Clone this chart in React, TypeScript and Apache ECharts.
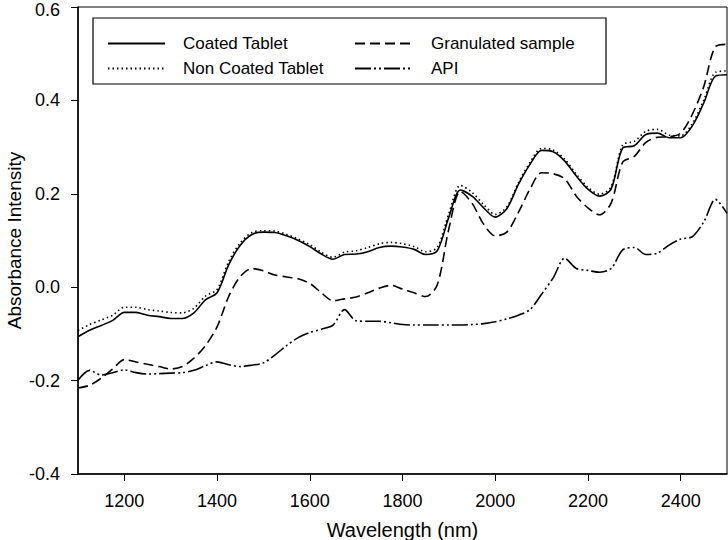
import React, { useEffect, useRef } from "react";
import * as echarts from "echarts";

const wavelengths = [
  1100, 1125, 1150, 1175, 1200, 1225, 1250, 1275, 1300, 1325, 1350, 1375, 1400, 1425, 1450, 1475,
  1500, 1525, 1550, 1575, 1600, 1625, 1650, 1675, 1700, 1725, 1750, 1775, 1800, 1825, 1850, 1875,
  1900, 1925, 1950, 1975, 2000, 2025, 2050, 2075, 2100, 2125, 2150, 2175, 2200, 2225, 2250, 2275,
  2300, 2325, 2350, 2375, 2400, 2425, 2450, 2475, 2500,
];

const coatedTablet = [
  -0.106, -0.092, -0.082, -0.071, -0.054, -0.054, -0.06, -0.063, -0.067, -0.067, -0.055, -0.027, -0.012, 0.048, 0.09, 0.113,
  0.118, 0.117, 0.11, 0.1, 0.087, 0.071, 0.06, 0.07, 0.071, 0.076, 0.085, 0.088, 0.086, 0.081, 0.07, 0.078,
  0.15, 0.208, 0.195, 0.17, 0.15, 0.168, 0.22, 0.263, 0.293, 0.29, 0.27, 0.238, 0.21, 0.195, 0.21, 0.298,
  0.303, 0.327, 0.33, 0.32, 0.32, 0.345, 0.395, 0.452, 0.455,
];

const nonCoatedTablet = [
  -0.093, -0.08, -0.07, -0.06, -0.043, -0.043, -0.048, -0.051, -0.054, -0.055, -0.045, -0.019, -0.005, 0.055, 0.095, 0.117,
  0.121, 0.12, 0.113, 0.103, 0.091, 0.075, 0.064, 0.075, 0.078, 0.085, 0.093, 0.096, 0.093, 0.087, 0.076, 0.085,
  0.158, 0.218, 0.203, 0.177, 0.156, 0.172, 0.224, 0.267, 0.297, 0.294, 0.274, 0.242, 0.214, 0.199, 0.215, 0.305,
  0.312, 0.334, 0.338, 0.326, 0.324, 0.35, 0.401, 0.46, 0.463,
];

const granulatedSample = [
  -0.216, -0.21, -0.195, -0.175, -0.155, -0.16, -0.165, -0.17, -0.175, -0.17, -0.152, -0.125, -0.085, -0.02, 0.023, 0.04,
  0.035, 0.026, 0.022, 0.018, 0.008, -0.012, -0.029, -0.025, -0.021, -0.012, -0.002, 0.004, -0.004, -0.012, -0.02, 0.005,
  0.125, 0.205, 0.18, 0.135, 0.11, 0.118, 0.16, 0.21, 0.245, 0.243, 0.232, 0.195, 0.17, 0.155, 0.18, 0.268,
  0.28, 0.31, 0.321, 0.322, 0.33, 0.37, 0.43, 0.515, 0.52,
];

const api = [
  -0.199, -0.178, -0.188, -0.183, -0.177, -0.183, -0.186, -0.185, -0.184, -0.183, -0.178, -0.168, -0.16, -0.166, -0.17, -0.167,
  -0.162, -0.145, -0.125, -0.108, -0.097, -0.09, -0.081, -0.048, -0.072, -0.073, -0.073, -0.076, -0.08, -0.081, -0.081, -0.081,
  -0.081, -0.081, -0.08, -0.078, -0.074, -0.068, -0.06, -0.048, -0.015, 0.02, 0.062, 0.04, 0.036, 0.032, 0.04, 0.08,
  0.085, 0.07, 0.073, 0.09, 0.103, 0.108, 0.14, 0.188, 0.158,
];

const xTicks = [1200, 1400, 1600, 1800, 2000, 2200, 2400];

const FONT = "Liberation Sans, Arial, sans-serif";

function pairs(vals: number[]) {
  return wavelengths.map((w, i) => [w, vals[i]]);
}

export default function App() {
  const ref = useRef<HTMLDivElement>(null);
  useEffect(() => {
    if (!ref.current) return;
    const chart = echarts.init(ref.current, undefined, { renderer: "svg" });
    const lineBase = { color: "#000", width: 1.6 };
    const legendCommon = {
      orient: "vertical",
      top: 35,
      itemWidth: 57,
      itemHeight: 14,
      itemGap: 8,
      padding: 0,
      itemStyle: { opacity: 0 },
    };
    chart.setOption({
      animation: false,
      backgroundColor: "#fff",
      grid: {
        left: 78,
        right: 1,
        top: 7,
        bottom: 66,
        show: true,
        borderColor: "#000",
        borderWidth: 1,
        containLabel: false,
        outerBoundsMode: "none",
      },
      xAxis: {
        type: "value",
        min: 1100,
        max: 2500,
        name: "Wavelength (nm)",
        nameLocation: "middle",
        nameGap: 46,
        nameMoveOverlap: false,
        nameTextStyle: { color: "#000", fontSize: 20, fontFamily: FONT },
        axisLine: { show: true, onZero: false, lineStyle: { color: "#000", width: 1.5 } },
        axisTick: { show: true, length: 7, customValues: xTicks, lineStyle: { color: "#000" } },
        axisLabel: {
          customValues: xTicks,
          color: "#000",
          fontSize: 18,
          fontFamily: FONT,
          margin: 18,
          formatter: (v: number) => String(v),
        },
        splitLine: { show: false },
      },
      yAxis: {
        type: "value",
        min: -0.4,
        max: 0.6,
        interval: 0.2,
        name: "Absorbance Intensity",
        nameLocation: "middle",
        nameGap: 54,
        nameMoveOverlap: false,
        nameTextStyle: { color: "#000", fontSize: 19, fontFamily: FONT },
        axisLine: { show: true, onZero: false, lineStyle: { color: "#000", width: 1.5 } },
        axisTick: { show: true, length: 7, lineStyle: { color: "#000" } },
        axisLabel: {
          color: "#000",
          fontSize: 18,
          fontFamily: FONT,
          margin: 18,
          formatter: (v: number) => (v > 0.55 ? "{t|" + v.toFixed(1) + "}" : v.toFixed(1)),
          rich: {
            t: { fontSize: 18, fontFamily: FONT, color: "#000", padding: [5, 0, 0, 0] },
          },
        },
        splitLine: { show: false },
      },
      legend: [
        {
          ...legendCommon,
          data: ["Coated Tablet", "Non Coated Tablet"],
          left: 107,
          textStyle: { color: "#000", fontSize: 17, fontFamily: FONT, padding: [0, 0, 0, 13] },
        },
        {
          ...legendCommon,
          data: ["Granulated sample", "API"],
          left: 354,
          textStyle: { color: "#000", fontSize: 17, fontFamily: FONT, padding: [0, 0, 0, 14] },
        },
      ],
      graphic: [
        {
          type: "rect",
          shape: { x: 93, y: 18, width: 513, height: 66 },
          style: { fill: "none", stroke: "#000", lineWidth: 1.2 },
          z: 10,
        },
      ],
      series: [
        {
          name: "Coated Tablet",
          type: "line",
          symbol: "none",
          smooth: 0.3,
          data: pairs(coatedTablet),
          lineStyle: { ...lineBase, type: "solid" },
          itemStyle: { color: "#000" },
        },
        {
          name: "Non Coated Tablet",
          type: "line",
          symbol: "none",
          smooth: 0.3,
          data: pairs(nonCoatedTablet),
          lineStyle: { ...lineBase, type: [1.5, 3] },
          itemStyle: { color: "#000" },
        },
        {
          name: "Granulated sample",
          type: "line",
          symbol: "none",
          smooth: 0.3,
          data: pairs(granulatedSample),
          lineStyle: { ...lineBase, type: [10, 5] },
          itemStyle: { color: "#000" },
        },
        {
          name: "API",
          type: "line",
          symbol: "none",
          smooth: 0.3,
          data: pairs(api),
          lineStyle: { ...lineBase, type: [16, 3, 2, 3, 2, 3] },
          itemStyle: { color: "#000" },
        },
      ],
    });
    return () => chart.dispose();
  }, []);
  return (
    <div
      ref={ref}
      style={{ position: "fixed", left: 0, top: 0, width: 728, height: 540, background: "#fff" }}
    />
  );
}
